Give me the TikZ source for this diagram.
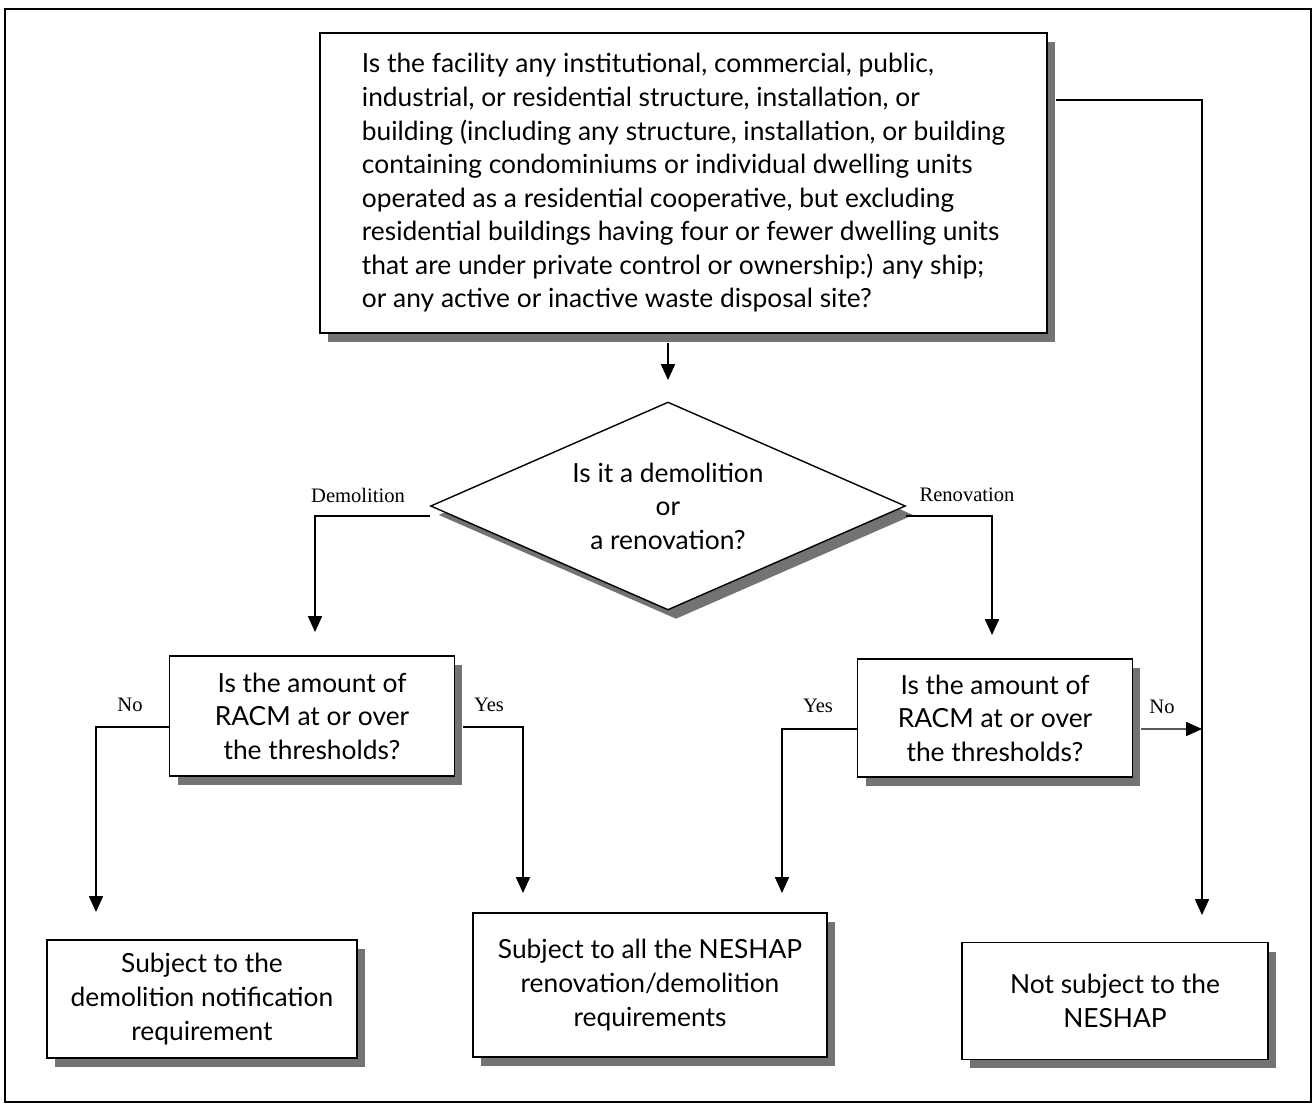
\documentclass[tikz,border=0pt]{standalone}
\usepackage{fontspec}
\setmainfont{Liberation Serif}
\newfontfamily\boxfont{Lato}
\usetikzlibrary{shapes.geometric,shadows,arrows.meta}

\tikzset{
	qbox/.style={draw, line width=0.8pt, fill=white, align=center, inner sep=0pt,
		font=\boxfont\fontsize{15}{19.1}\selectfont,
		general shadow={fill=black!55, shadow xshift=0.16cm, shadow yshift=-0.18cm}},
	decision/.style={qbox, diamond, aspect=2.3, minimum width=9.5cm, minimum height=4.16cm},
	arr/.style={line width=0.7pt, -{Triangle[width=8pt,length=9pt]}},
	lbl/.style={font=\fontsize{11.7}{14}\selectfont, inner sep=0pt}
}

\begin{document}
\begin{tikzpicture}[x=0.02cm, y=-0.02cm]
		%%%%% START %%%%%
		\useasboundingbox (0,0) rectangle (1316,1106);
		\draw[line width=0.6pt] (5,9) rectangle (1311,1102);
		
		\node[qbox, minimum width=14.54cm, minimum height=6cm, align=left] (top) at (683.5,183)
			{Is the facility any institutional, commercial, public,\\
			industrial, or residential structure, installation, or\\
			building (including any structure, installation, or building\\
			containing condominiums or individual dwelling units\\
			operated as a residential cooperative, but excluding\\
			residential buildings having four or fewer dwelling units\\
			that are under private control or ownership:) any ship;\\
			or any active or inactive waste disposal site?};
		
		\node[decision] (dia) at (668,506) {Is it a demolition\\or\\a renovation?};
		
		\node[qbox, minimum width=5.7cm, minimum height=2.4cm] (racmL) at (312,716)
			{Is the amount of\\RACM at or over\\the thresholds?};
		\node[qbox, minimum width=5.5cm, minimum height=2.36cm] (racmR) at (995,718)
			{Is the amount of\\RACM at or over\\the thresholds?};
		
		\node[qbox, minimum width=6.2cm, minimum height=2.36cm] (subDemo) at (202,999)
			{Subject to the\\demolition notification\\requirement};
		\node[qbox, minimum width=7.08cm, minimum height=2.88cm] (subAll) at (650,985)
			{Subject to all the NESHAP\\renovation/demolition\\requirements};
		\node[qbox, minimum width=6.12cm, minimum height=2.34cm] (notSub) at (1115,1001)
			{Not subject to the\\NESHAP};
		
		% arrow ends
		\coordinate (tipDia) at (668,380);
		\coordinate (tipDemo) at (315,632);
		\coordinate (tipReno) at (992,635);
		\coordinate (tipNoL) at (96,912);
		\coordinate (tipYesL) at (523,893);
		\coordinate (tipYesR) at (782,893);
		\coordinate (tipNoR) at (1202,729);
		\coordinate (tipNot) at (1202,915);
		
		\draw[arr] ([yshift=-0.18cm]top.south -| tipDia) -- (tipDia);
		\draw[arr] ([yshift=-0.2cm]dia.west) -| (tipDemo);
		\draw[arr] ([yshift=-0.2cm]dia.east) -| (tipReno);
		\draw[arr] ([yshift=-0.22cm]racmL.west) -| (tipNoL);
		\draw[arr] ([xshift=0.16cm, yshift=-0.22cm]racmL.east) -| (tipYesL);
		\draw[arr] ([yshift=-0.22cm]racmR.west) -| (tipYesR);
		\draw[arr] ([xshift=0.16cm, yshift=-0.22cm]racmR.east) -- (tipNoR);
		\draw[arr] ([xshift=0.16cm, yshift=1.66cm]top.east) -| (tipNot);
		
		\node[lbl] (lDemo) at (358,495) {Demolition};
		\node[lbl] (lReno) at (967,495) {Renovation};
		\node[lbl] (lNoL) at (130,705) {No};
		\node[lbl] (lYesL) at (489,705) {Yes};
		\node[lbl] (lYesR) at (818,706) {Yes};
		\node[lbl] (lNoR) at (1162,707) {No};
		%%%%% END %%%%%
	\end{tikzpicture}
\end{document}
